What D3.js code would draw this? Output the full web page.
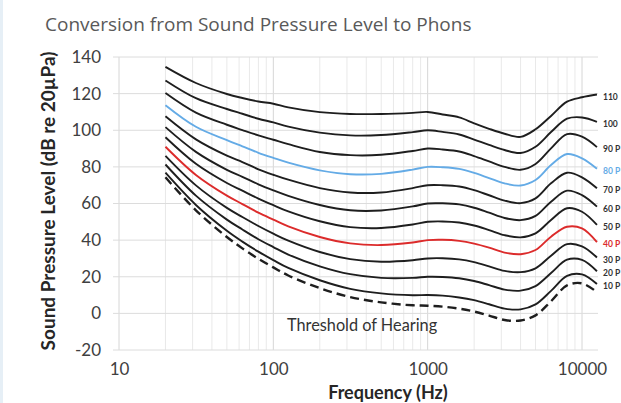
<!DOCTYPE html>
<html>
<head>
<meta charset="utf-8">
<script src="https://cdn.jsdelivr.net/npm/d3@7"></script>
<style>
  html, body { margin: 0; padding: 0; background: #ffffff; }
  svg { display: block; overflow: hidden; }
</style>
</head>
<body>
<svg id="chart" width="621" height="403"></svg>
<script>
// Frequencies (Hz) at which each contour is sampled
const frequencies = [20, 31.5, 50, 63, 80, 100, 125, 200, 315, 500, 800, 1000, 1250, 1600, 2000, 2500, 3150, 4000, 5000, 6300, 8000, 10000, 12500];

// Equal-loudness contours, sound pressure level in dB re 20 µPa
const threshold = [74.3, 56.3, 41.7, 35.5, 29.8, 25.1, 20.7, 13.8, 8.9, 6.0, 4.4, 4.2, 3.7, 2.6, 1.0, -1.2, -3.6, -3.9, -1.1, 6.6, 15.3, 16.4, 11.6];
const phon10  = [76.8, 59.2, 45.1, 39.2, 33.7, 29.1, 24.8, 18.1, 13.4, 10.9, 9.9, 10, 9.7, 8.7, 7.2, 5.0, 2.6, 2.2, 4.9, 12.3, 20.5, 21.3, 16.0];
const phon20  = [81.3, 64.3, 51.2, 45.8, 40.5, 36.2, 32.1, 25.7, 21.4, 19.4, 19.4, 20, 19.9, 19.2, 17.7, 15.4, 13.0, 12.4, 14.9, 22.0, 29.3, 29.2, 23.0];
const phon30  = [86.0, 69.9, 57.6, 52.6, 47.7, 43.5, 39.7, 33.5, 29.6, 28.2, 29.0, 30, 30.1, 29.5, 28.0, 25.7, 23.2, 22.5, 24.6, 31.5, 37.8, 36.6, 30.5];
const phon40  = [91.0, 75.6, 64.3, 59.7, 55.0, 51.2, 47.5, 41.7, 38.2, 37.3, 38.7, 40, 40.2, 39.6, 38.1, 35.9, 33.2, 32.3, 34.6, 41.9, 47.3, 46.4, 38.9];
const phon50  = [96.2, 81.7, 71.2, 67.0, 62.7, 59.1, 55.7, 50.3, 47.1, 46.6, 48.5, 50, 50.2, 49.6, 48.0, 45.5, 42.7, 41.5, 43.7, 51.0, 57.4, 55.5, 48.3];
const phon60  = [101.7, 88.2, 78.4, 74.6, 70.5, 67.2, 64.2, 59.2, 56.3, 56.2, 58.4, 60, 60.1, 59.5, 57.7, 55.0, 52.1, 50.9, 53.2, 61.0, 67.0, 64.6, 58.3];
const phon70  = [107.6, 95.0, 86.1, 82.6, 78.7, 75.7, 73.0, 68.4, 66.0, 66.0, 68.4, 70, 70.0, 69.3, 67.3, 64.5, 61.6, 60.2, 62.8, 71.0, 76.8, 74.3, 68.3];
const phon80  = [113.7, 101.9, 94.6, 91.2, 87.7, 84.9, 82.3, 78.1, 76.0, 76.2, 78.5, 80, 79.8, 78.9, 76.7, 73.9, 71.0, 69.8, 72.8, 81.0, 87.0, 84.7, 79.0];
const phon90  = [120.3, 109.6, 103.0, 100.1, 97.2, 94.8, 92.4, 88.1, 86.4, 86.6, 88.7, 90, 89.5, 88.4, 85.9, 83.0, 80.0, 78.4, 81.6, 90.1, 97.9, 96.5, 90.8];
const phon100 = [127.2, 117.5, 111.6, 109.0, 106.3, 104.3, 102.0, 98.7, 97.2, 97.4, 99.0, 100, 99.1, 97.7, 94.9, 92.0, 89.2, 87.6, 91.0, 99.0, 106.3, 107.0, 104.6];
const phon110 = [134.6, 125.8, 119.8, 117.6, 115.7, 114.5, 112.5, 109.9, 108.9, 108.9, 109.5, 110, 108.6, 107.0, 103.8, 100.8, 98.1, 96.4, 100.5, 107.8, 115.6, 118.0, 119.5];

// Contour labels at the right-hand end (as far as they show before the edge)
const contourLabels = ["10 P", "20 P", "30 P", "40 P", "50 P", "60 P", "70 P", "80 P", "90 P", "100", "110"];

// Axis ticks
const yTicks = [-20, 0, 20, 40, 60, 80, 100, 120, 140];
const xTicks = [10, 100, 1000, 10000];

const contours = [phon10, phon20, phon30, phon40, phon50, phon60, phon70, phon80, phon90, phon100, phon110];
const highlight = { "40 P": "#dc2b2b", "80 P": "#64abe6" };

const svg = d3.select("#chart");

// faint frame strip on the left edge of the figure
svg.append("rect").attr("x", 0).attr("y", 0).attr("width", 3).attr("height", 403).attr("fill", "#e6eff6");

const x = d3.scaleLog().domain([10, 10000]).range([119, 582]);
const y = d3.scaleLinear().domain([-20, 140]).range([350, 57]);
const plotRight = 598;

// Title
svg.append("text")
  .attr("x", 45).attr("y", 31)
  .attr("font-family", "'Open Sans', sans-serif")
  .attr("font-size", 19)
  .attr("fill", "#595959")
  .text("Conversion from Sound Pressure Level to Phons");

const grid = svg.append("g");

// vertical grid: minor lines lighter, decades darker
const minorTicks = x.ticks().filter(f => f >= 10 && x(f) <= plotRight);
grid.selectAll("line.vminor")
  .data(minorTicks.filter(f => !xTicks.includes(f)))
  .join("line")
  .attr("x1", d => x(d)).attr("x2", d => x(d))
  .attr("y1", y(140)).attr("y2", y(-20))
  .attr("stroke", "#e9e9e9").attr("stroke-width", 1);
grid.selectAll("line.vmajor")
  .data(xTicks)
  .join("line")
  .attr("x1", d => x(d)).attr("x2", d => x(d))
  .attr("y1", y(140)).attr("y2", y(-20))
  .attr("stroke", "#d6d6d6").attr("stroke-width", 1);

// horizontal grid
grid.selectAll("line.h")
  .data(yTicks)
  .join("line")
  .attr("x1", 113).attr("x2", plotRight)
  .attr("y1", d => y(d)).attr("y2", d => y(d))
  .attr("stroke", "#dcdcdc").attr("stroke-width", 1);

// y axis tick labels
const yAxis = d3.axisLeft(y).tickValues(yTicks).tickFormat(d => String(d)).tickSize(0).tickPadding(0);
const gy = svg.append("g").attr("transform", "translate(101,0)").call(yAxis);
gy.select(".domain").remove();
gy.selectAll("text")
  .attr("font-family", "Lato, sans-serif")
  .attr("font-size", 17)
  .attr("fill", "#404040");

// x axis tick labels
const xAxis = d3.axisBottom(x).tickValues(xTicks).tickFormat(d => String(d)).tickSize(0).tickPadding(0);
const gx = svg.append("g").attr("transform", "translate(0,363)").call(xAxis);
gx.select(".domain").remove();
gx.selectAll("text")
  .attr("font-family", "Lato, sans-serif")
  .attr("font-size", 17)
  .attr("fill", "#404040");

// axis titles
svg.append("text")
  .attr("transform", "translate(55,201) rotate(-90)")
  .attr("text-anchor", "middle")
  .attr("font-family", "Lato, sans-serif")
  .attr("font-weight", "bold")
  .attr("font-size", 19)
  .attr("fill", "#262626")
  .text("Sound Pressure Level (dB re 20µPa)");

svg.append("text")
  .attr("x", 388).attr("y", 399)
  .attr("text-anchor", "middle")
  .attr("font-family", "Lato, sans-serif")
  .attr("font-weight", "bold")
  .attr("font-size", 18)
  .attr("fill", "#262626")
  .text("Frequency (Hz)");

// contour lines
const line = d3.line()
  .x(d => x(d[0]))
  .y(d => y(d[1]))
  .curve(d3.curveCatmullRom.alpha(0.5));

const series = contours.map((vals, i) => ({
  label: contourLabels[i],
  points: frequencies.map((f, j) => [f, vals[j]])
}));

const curves = svg.append("g");
curves.selectAll("path.contour")
  .data(series)
  .join("path")
  .attr("d", d => line(d.points))
  .attr("fill", "none")
  .attr("stroke", d => highlight[d.label] || "#1e1e1e")
  .attr("stroke-width", 1.9)
  .attr("stroke-linejoin", "round");

curves.append("path")
  .attr("d", line(frequencies.map((f, j) => [f, threshold[j]])))
  .attr("fill", "none")
  .attr("stroke", "#1e1e1e")
  .attr("stroke-width", 2.4)
  .attr("stroke-dasharray", "9,5");

// labels at the end of each contour
svg.append("g").selectAll("text")
  .data(series)
  .join("text")
  .attr("x", 603)
  .attr("y", d => y(d.points[d.points.length - 1][1]) + 3)
  .attr("dominant-baseline", "middle")
  .attr("font-family", "Lato, sans-serif")
  .attr("font-weight", "bold")
  .attr("font-size", 8.5)
  .attr("fill", d => highlight[d.label] || "#333333")
  .text(d => d.label);

// threshold annotation
svg.append("text")
  .attr("x", 287).attr("y", 331)
  .attr("font-family", "Lato, sans-serif")
  .attr("font-size", 16.3)
  .attr("fill", "#333333")
  .text("Threshold of Hearing");
</script>
</body>
</html>
